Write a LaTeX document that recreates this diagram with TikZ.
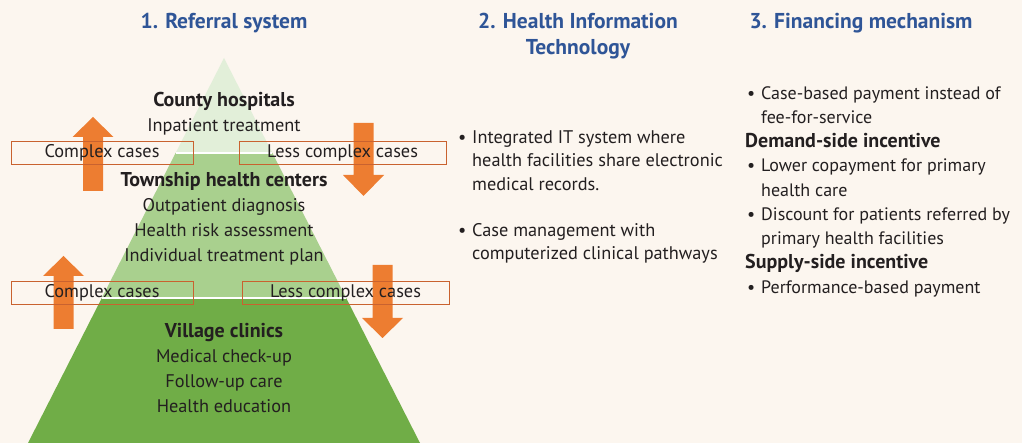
\documentclass[tikz,border=0pt]{standalone}
\usepackage{fontspec}
\setmainfont{PT Sans}
\usetikzlibrary{calc}
\definecolor{paper}{HTML}{FCF6EF}
\definecolor{tiertop}{HTML}{E2EFD9}
\definecolor{tiermid}{HTML}{A9D08E}
\definecolor{tierlow}{HTML}{70AD47}
\definecolor{flowfill}{HTML}{ED7D31}
\definecolor{boxline}{HTML}{C9622F}
\definecolor{headblue}{HTML}{2F5597}
\definecolor{ink}{HTML}{231F20}
\newcommand{\blockarrow}[4]{% x, tail y, head base y, tip y
  \fill[flowfill] (#1-10,#2) -- (#1-10,#3) -- (#1-20.5,#3) -- (#1,#4)
    -- (#1+20.5,#3) -- (#1+10,#3) -- (#1+10,#2) -- cycle;}
\newcommand{\dotitem}[2][2pt]{\makebox[#2][l]{\hspace{#1}\textbullet}}
\newcommand{\subhead}[1]{{\fontsize{20}{24}\selectfont\bfseries #1}}
\tikzset{
  tiertext/.style={align=center, text=ink, inner sep=0pt, font=\fontsize{18.3}{25}\selectfont},
  casebox/.style={draw=boxline, line width=0.8pt, minimum height=23, inner sep=0pt, text=ink, font=\fontsize{18.3}{20}\selectfont},
  colhead/.style={align=center, text=headblue, inner sep=0pt, font=\fontsize{21.5}{26}\selectfont\bfseries},
  bulletlist/.style={align=left, anchor=north west, text=ink, inner sep=0pt, font=\fontsize{18}{24.25}\selectfont}
}
\begin{document}
\begin{tikzpicture}[x=1pt, y=-1pt]
  \useasboundingbox[fill=paper] (0,0) rectangle (1022,443);

  % pyramid tiers
  \fill[tiertop] (224,58) -- (272.4,153) -- (175.6,153) -- cycle;
  \fill[tiermid] (175.6,153) -- (272.4,153) -- (346.2,298) -- (101.8,298) -- cycle;
  \fill[tierlow] (101.8,298) -- (346.2,298) -- (420,443) -- (28,443) -- cycle;
  \draw[white, line width=1.2pt] (175.6,153) -- (272.4,153);
  \draw[white, line width=1.2pt] (101.8,298) -- (346.2,298);

  % referral arrows
  \blockarrow{93}{191}{137}{117}
  \blockarrow{363.5}{123}{175}{196}
  \blockarrow{63.5}{329}{276}{256}
  \blockarrow{382.5}{265}{318}{338}

  % column headings
  \node[colhead] (head1) at (224,23) {1. Referral system};
  \node[colhead] (head2) at (578,36) {2. Health Information\\Technology};
  \node[colhead] (head3) at (861,23) {3. Financing mechanism};

  % tier texts
  \node[tiertext] (county) at (224,114) {\subhead{County hospitals}\\Inpatient treatment};
  \node[tiertext] (township) at (224,218.5) {\subhead{Township health centers}\\Outpatient diagnosis\\Health risk assessment\\Individual treatment plan};
  \node[tiertext] (village) at (224,368) {\subhead{Village clinics}\\Medical check-up\\Follow-up care\\Health education};

  % case boxes
  \node[casebox, minimum width=182] (upper) at (102,152.5) {Complex cases};
  \node[casebox, minimum width=207] (lower) at (342.5,152.5) {Less complex cases};
  \node[casebox, minimum width=182] (upper2) at (102,292.5) {Complex cases};
  \node[casebox, minimum width=207] (lower2) at (345.5,292.5) {Less complex cases};

  % bullet lists
  \node[bulletlist, font=\fontsize{18.3}{23.7}\selectfont] (itlist) at (458,130) {\dotitem[0pt]{14pt}Integrated IT system where\\
    \hspace*{14pt}health facilities share electronic\\
    \hspace*{14pt}medical records.\\[22pt]
    \dotitem[0pt]{14pt}Case management with\\
    \hspace*{14pt}computerized clinical pathways};
  \node[bulletlist] (paylist) at (745,86) {\dotitem{16pt}Case-based payment instead of\\
    \hspace*{16pt}fee-for-service\\
    \subhead{Demand-side incentive}\\
    \dotitem{16pt}Lower copayment for primary\\
    \hspace*{16pt}health care\\
    \dotitem{16pt}Discount for patients referred by\\
    \hspace*{16pt}primary health facilities\\
    \subhead{Supply-side incentive}\\
    \dotitem{16pt}Performance-based payment};
\end{tikzpicture}
\end{document}
